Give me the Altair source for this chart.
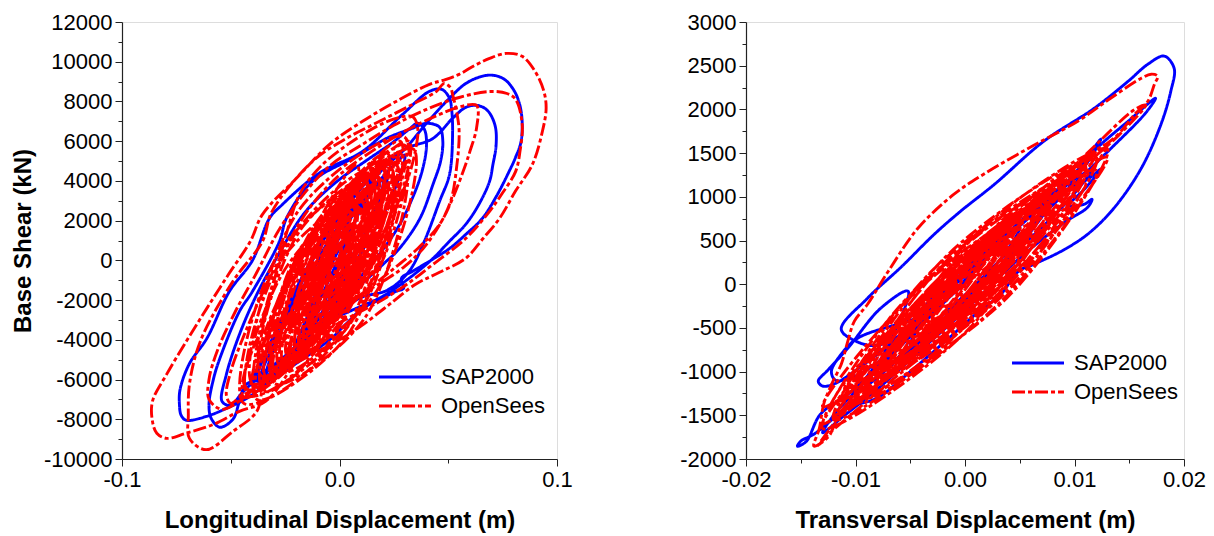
import altair as alt
import pandas as pd

FONT = "Liberation Sans"
SERIES = ["SAP2000", "OpenSees"]

# ---------------- Longitudinal panel (x in m, y in kN) ----------------
sap_long_core = [
    (0.000, 0), (0.008, 2200), (0.016, 3600), (0.022, 4300), (0.018, 2800), (0.006, 200),
    (-0.008, -2600), (-0.018, -4300), (-0.022, -4800), (-0.014, -2600), (-0.004, 300),
    (0.010, 2900), (0.026, 4900), (0.030, 5300), (0.024, 3200), (0.010, 400), (-0.010, -3000),
    (-0.028, -5600), (-0.034, -6000), (-0.028, -3900), (-0.016, -1200), (0.002, 1900),
    (0.016, 3800), (0.020, 4100), (0.014, 1900), (0.000, -800),
]
sap_long_loops = [
    (-0.016, -3600), (-0.030, -5800), (-0.042, -6900), (-0.052, -7450), (-0.061, -7850),
    (-0.0705, -8050), (-0.0728, -7800), (-0.0736, -7250), (-0.0733, -6500), (-0.069, -5200),
    (-0.061, -3930), (-0.0506, -1560), (-0.040, 0), (-0.0322, 2115), (-0.0262, 2820),
    (-0.0092, 4400), (0.0106, 5490), (0.029, 7350), (0.0414, 8510), (0.047, 8610),
    (0.0506, 8160), (0.0515, 7650), (0.052, 6500), (0.0506, 4330), (0.046, 2970), (0.039, 960),
    (0.032, -550), (0.022, -1500), (0.0092, -1900), (-0.003, -2900), (-0.015, -3600),
    (-0.024, -5100), (-0.0336, -5940), (-0.043, -6250),
    (-0.046, -7100), (-0.049, -8000), (-0.055, -8400), (-0.059, -7950), (-0.060, -7250),
    (-0.058, -6000), (-0.055, -4930), (-0.046, -2570), (-0.040, -1560), (-0.0276, 960),
    (-0.0244, 2115), (-0.0124, 3980), (0.0078, 5240), (0.0216, 6140), (0.0336, 6650),
    (0.040, 6900), (0.046, 6700), (0.0475, 6000), (0.0465, 5000), (0.043, 3830), (0.037, 2115),
    (0.0276, 604), (0.020, -200), (0.006, -1600), (-0.008, -3000), (-0.020, -4600),
    (-0.030, -5600), (-0.038, -6000), (-0.045, -6700),
    (-0.050, -7300), (-0.054, -7100), (-0.052, -5740), (-0.046, -3730), (-0.038, -1710),
    (-0.028, 300), (-0.016, 2400), (-0.002, 3900), (0.012, 5000), (0.024, 5900), (0.032, 6600),
    (0.036, 6900), (0.039, 6600), (0.040, 5800), (0.038, 4500), (0.033, 3000), (0.026, 1500),
    (0.016, 0), (0.004, -1500), (-0.010, -3000), (-0.020, -4300), (-0.030, -5300), (-0.036, -5800),
    (-0.030, -4200), (-0.018, -1800), (-0.006, 800), (0.010, 3200), (0.020, 4600), (0.030, 5600),
    (0.040, 6900), (0.050, 8100), (0.058, 8900), (0.065, 9250), (0.0705, 9320), (0.076, 9100),
    (0.081, 8400), (0.0837, 7350), (0.0835, 6000), (0.081, 5200), (0.078, 4480), (0.072, 3200),
    (0.0657, 2115), (0.058, 1300), (0.0506, 600), (0.042, 0), (0.0336, -550), (0.0285, -900),
    (0.0295, -1400), (0.026, -1560), (0.018, -2000), (0.0106, -2417), (0.003, -3200),
    (-0.004, -3950), (-0.016, -4900), (-0.026, -5600), (-0.034, -6000), (-0.040, -6300),
    (-0.036, -5200),
    (-0.026, -2800), (-0.012, 200), (0.004, 2800), (0.018, 4600), (0.030, 5600), (0.043, 6140),
    (0.052, 7150), (0.058, 7700), (0.0634, 7800), (0.068, 7550), (0.0715, 6800), (0.072, 5800),
    (0.0705, 4800), (0.069, 3980), (0.064, 2800), (0.058, 1810), (0.050, 900), (0.043, 100),
    (0.032, -900), (0.020, -1800), (0.006, -2500), (-0.006, -3100), (-0.016, -3900),
    (-0.026, -4900), (-0.036, -5700), (-0.040, -6000), (-0.032, -4300), (-0.020, -1700),
    (-0.006, 1300), (0.006, 3200), (0.014, 4200), (0.010, 2700), (0.000, 200), (-0.010, -2200),
    (-0.016, -3500), (-0.010, -1800), (0.000, 600), (0.006, 1600), (0.002, 200), (-0.004, -900),
    (0.000, 0),
]
os_long_core = [
    (0, 0), (0.0042, 1950), (0.012, 3000), (0.0043, -770), (-0.010, -2800), (-0.0002, 1750),
    (0.018, 4200), (0.0047, -1390), (-0.020, -4400), (-0.0046, 1710), (0.024, 5000),
    (0.010, -590), (-0.016, -3600), (-0.0069, 430), (0.010, 2600), (-0.004, -2730),
    (-0.030, -5600), (-0.0097, 1550), (0.028, 5400), (0.0098, -1230), (-0.024, -4800),
    (-0.010, 790), (0.016, 3800), (-0.0022, -2700), (-0.036, -6200), (-0.0164, 820),
    (0.020, 4600), (0.0088, -340), (-0.012, -3000), (0.0013, 2330), (0.026, 5200),
    (0.0071, -1560), (-0.028, -5200), (-0.0133, 390), (0.014, 3400), (-0.0049, -3100),
    (-0.040, -6600), (-0.0239, -1140), (0.006, 1800), (-0.0024, -1970), (-0.018, -4000),
    (-0.004, 1720), (0.022, 4800), (0.0024, -2090), (-0.034, -5800), (-0.0116, 1740),
    (0.030, 5800), (0.0167, 600), (-0.008, -2200), (0.0011, 1830), (0.018, 4000),
    (-0.0037, -3085), (-0.044, -6900), (-0.0244, -335), (0.012, 3200), (0.0001, -1870),
    (-0.022, -4600), (-0.0031, 2290), (0.032, 6000), (0.0159, -110), (-0.014, -3400),
    (-0.0063, 370), (0.008, 2400), (-0.0081, -3320), (-0.038, -6400), (-0.0163, 750),
    (0.024, 4600), (0.0065, -1640), (-0.026, -5000), (-0.0155, -840), (0.004, 1400),
    (0.0005, -680), (-0.006, -1800), (0.0017, 1710), (0.016, 3600), (-0.0008, -2250),
    (-0.032, -5400), (-0.0138, 970), (0.020, 4400), (0.013, 1540), (0, 0),
]
os_long_core2 = [
    (0, 0), (0.0078, 3920), (0.026, 5600), (0.0056, -3080), (-0.042, -6800), (-0.0264, 60),
    (0.010, 3000), (0.001, -2600), (-0.020, -5000), (-0.005, 2000), (0.030, 5000),
    (0.012, -2840), (-0.030, -6200), (-0.0204, -320), (0.002, 2200), (-0.0028, -2280),
    (-0.014, -4200), (-0.0032, 2520), (0.022, 5400), (0.004, -3280), (-0.038, -7000),
    (-0.0218, 1120), (0.016, 4600), (0.0094, -720), (-0.006, -3000), (0.0042, 3300),
    (0.028, 6000), (0.0118, -2120), (-0.026, -5600), (-0.0164, 280), (0.006, 2800),
    (-0.006, -3780), (-0.034, -6600), (-0.0184, 540), (0.018, 3600), (0.0096, -1440),
    (-0.010, -3600), (0.0002, 1860), (0.024, 4200), (0.0036, -3780), (-0.044, -7200),
    (-0.0272, 500), (0.012, 3800), (0.003, -1940), (-0.018, -4400), (-0.0024, 2600),
    (0.034, 5600), (0.0154, -1820), (-0.028, -5000), (-0.0196, -240), (0.000, 1800),
    (-0.0066, -3520), (-0.022, -5800), (-0.0094, 1760), (0.020, 5000), (0.0104, -320),
    (-0.012, -2600), (-0.0042, 1040), (0.014, 2600), (-0.001, -3280), (-0.036, -5800),
    (-0.0174, 1620), (0.026, 4800), (0.017, -240), (-0.004, -2400), (-0.0004, 1660),
    (0.008, 3400), (-0.0064, -3320), (-0.040, -6200), (-0.019, 2480), (0.030, 6200),
    (0.0162, -800), (-0.016, -3800), (-0.0112, -1140), (0, 0),
]
os_long_core3 = [
    (0, 0), (0.0032, 1560), (0.008, 2600), (-0.0016, -760), (-0.016, -3000), (-0.008, -480),
    (0.004, 1200), (-0.0072, -2040), (-0.024, -4200), (-0.0088, -360), (0.014, 2200),
    (0.0052, -80), (-0.008, -1600), (0.0032, 1400), (0.020, 3400), (0.0072, -920),
    (-0.012, -3800), (-0.0064, 280), (0.002, 3000), (-0.0108, -1560), (-0.030, -4600),
    (-0.014, -1240), (0.010, 1000), (-0.002, -1040), (-0.020, -2400), (-0.0056, 1680),
    (0.016, 4400), (0.008, 1160), (-0.004, -1000), (0.000, 1880), (0.006, 3800),
    (-0.0068, -520), (-0.026, -3400), (-0.0084, -160), (0.018, 2000), (0.0052, -2320),
    (-0.014, -5200), (-0.0092, -640), (-0.002, 2400), (-0.0156, -2040), (-0.036, -5000),
    (-0.0168, 520), (0.012, 4200), (0.0032, -960), (-0.010, -4400), (0.0028, 520),
    (0.022, 3800), (0.006, 320), (-0.018, -2000), (-0.0108, -440), (0.000, 600),
    (-0.0128, -3360), (-0.032, -6000), (-0.016, 480), (0.008, 4800), (0.0048, 360),
    (0.000, -2600), (0.0096, 760), (0.024, 3000), (0.0056, -720), (-0.022, -3200),
    (-0.0132, -1280), (0, 0),
]
os_long_loops = [
    (-0.010, -3200), (-0.022, -5400), (-0.034, -7100), (-0.046, -7600), (-0.058, -8260),
    (-0.0705, -8700), (-0.0795, -8960), (-0.084, -8700), (-0.086, -8100), (-0.086, -7100),
    (-0.0795, -5740), (-0.070, -4000), (-0.061, -2417), (-0.051, -700), (-0.041, 957),
    (-0.0354, 2316), (-0.0198, 4130), (-0.0046, 5840), (0.0106, 7000), (0.026, 8000),
    (0.0414, 8860), (0.049, 9110), (0.055, 9365), (0.062, 9800), (0.069, 10170), (0.0768, 10420),
    (0.084, 10270), (0.090, 9500), (0.094, 8500), (0.095, 7650), (0.0933, 6500), (0.0887, 4830),
    (0.081, 3500), (0.0736, 2115), (0.066, 1100), (0.058, 100), (0.046, -600), (0.035, -1200),
    (0.022, -2300), (0.010, -3300), (0.000, -4000), (-0.012, -4700), (-0.024, -5400),
    (-0.034, -6000),
    (-0.038, -7600), (-0.049, -8610), (-0.0613, -9530), (-0.069, -8960), (-0.0695, -7800),
    (-0.069, -6240), (-0.064, -4080), (-0.049, -1057), (-0.0354, 957), (-0.031, 2467),
    (-0.0124, 4985), (0.0032, 6140), (0.0184, 7000), (0.0336, 7855), (0.0446, 8510),
    (0.048, 8900), (0.051, 8700), (0.052, 8360), (0.054, 7400), (0.055, 6500), (0.054, 4830),
    (0.0506, 2820), (0.040, 805), (0.030, -300), (0.018, -1200), (0.004, -2100), (-0.010, -3200),
    (-0.020, -4300), (-0.030, -5500), (-0.038, -6300),
    (-0.045, -7000), (-0.054, -7500), (-0.060, -7000), (-0.060, -6000), (-0.056, -4500),
    (-0.048, -2600), (-0.038, -600), (-0.028, 1500), (-0.016, 3400), (-0.004, 4800),
    (0.010, 5800), (0.025, 6800), (0.040, 7600), (0.055, 8200), (0.069, 8500), (0.077, 8400),
    (0.081, 8100), (0.084, 6850), (0.083, 5500), (0.081, 4480), (0.075, 3400), (0.069, 2470),
    (0.058, 1100), (0.043, -200), (0.031, -1200), (0.018, -2100), (0.004, -2900),
    (-0.010, -3800), (-0.022, -4900), (-0.032, -5800), (-0.040, -6500), (-0.046, -6900),
    (-0.050, -7200), (-0.052, -6800), (-0.050, -5600), (-0.044, -3800), (-0.036, -1800),
    (-0.026, 400), (-0.014, 2600), (0.000, 4300), (0.015, 5500), (0.030, 6500), (0.045, 7300),
    (0.056, 7750), (0.063, 7800), (0.063, 6650), (0.060, 5500), (0.058, 4830), (0.052, 3120),
    (0.046, 1810), (0.036, 600), (0.024, -500), (0.010, -1700), (-0.004, -2800),
    (-0.016, -3900), (-0.026, -5000), (-0.034, -6000),
    (-0.040, -6600), (-0.044, -6200), (-0.040, -4500), (-0.036, -3500), (-0.030, -1000),
    (-0.024, 1500), (-0.018, 3400), (-0.008, 4800), (0.006, 6000), (0.020, 6900), (0.030, 7250),
    (0.034, 7200), (0.036, 6600), (0.035, 5600), (0.032, 4300), (0.026, 2700), (0.018, 1000),
    (0.006, -800), (-0.006, -2300), (-0.016, -3600), (-0.024, -4600), (-0.016, -2800),
    (-0.006, -600), (0, 0),
]

# ---------------- Transversal panel (x in m, y in kN) ----------------
sap_trans_core = [
    (0, 0), (0.002, 350), (0.005, 650), (0.003, 250), (-0.002, -350), (-0.005, -700),
    (-0.003, -250), (0.002, 400), (0.007, 900), (0.009, 1150), (0.006, 600), (0.001, -100),
    (-0.004, -600), (-0.008, -1050), (-0.010, -1250), (-0.006, -600), (-0.001, 100),
    (0.004, 600), (0.008, 1050), (0.006, 650), (0.001, 0), (-0.004, -650), (-0.007, -900),
    (-0.004, -350), (0.001, 250), (0.006, 800), (0.010, 1200), (0.0115, 1300), (0.009, 900),
    (0.004, 300), (-0.002, -400), (-0.006, -850), (-0.009, -1150), (-0.007, -700),
]
sap_trans_loops = [
    (-0.0052, -80), (-0.0077, -275), (-0.0107, -732), (-0.0125, -980), (-0.0134, -1110),
    (-0.013, -1165), (-0.012, -1144), (-0.0092, -915), (-0.006, -600), (-0.003, -250),
    (0.000, 100), (0.003, 450), (0.0055, 750), (0.002, 300), (-0.003, -300), (-0.0098, -618),
    (-0.0113, -800), (-0.0122, -1000), (-0.0118, -1100), (-0.010, -1050), (-0.007, -800),
    (-0.004, -450), (-0.008, -700), (-0.010, -650), (-0.0113, -515), (-0.0089, -160),
    (-0.0058, 200), (-0.0028, 572), (-0.0004, 835), (0.0027, 1144), (0.0072, 1636),
    (0.0118, 2013), (0.0149, 2322), (0.0167, 2517), (0.0182, 2610), (0.0191, 2470),
    (0.0188, 2210), (0.0179, 1830), (0.0161, 1327), (0.0136, 870), (0.0112, 572),
    (0.0088, 378), (0.0063, 229), (0.0049, 149), (0.0032, -126), (0.0015, -286),
    (-0.0015, -620), (-0.005, -1000), (-0.008, -1300), (-0.0107, -1419), (-0.0138, -1716),
    (-0.015, -1796), (-0.0153, -1853), (-0.0145, -1800), (-0.0132, -1487), (-0.0107, -1260),
    (-0.008, -950), (-0.004, -450), (0.000, 50), (0.004, 550), (0.0088, 1100), (0.012, 1550),
    (0.0149, 1865), (0.0174, 2128), (0.0165, 1960), (0.0133, 1550), (0.010, 1150),
    (0.0075, 850), (0.010, 1250), (0.0124, 1659), (0.0115, 1450), (0.0095, 1100),
    (0.0112, 1200), (0.0124, 1316), (0.011, 1100), (0.0095, 900), (0.0109, 915),
    (0.0116, 972), (0.0112, 880), (0.009, 700), (0.005, 300), (0.000, -300), (-0.004, -750),
    (-0.008, -1200), (-0.011, -1500), (-0.013, -1700), (-0.012, -1500), (-0.009, -1100),
    (-0.005, -600), (-0.001, -100), (0.000, 0),
]
os_trans_core = [
    (0, 0), (0.0016, 300), (0.004, 500), (0.0012, -40), (-0.003, -400), (0.001, 350),
    (0.007, 850), (0.0018, -110), (-0.006, -750), (0.000, 360), (0.009, 1100), (0.0022, -160),
    (-0.008, -1000), (-0.0028, -10), (0.005, 650), (-0.001, -490), (-0.010, -1250),
    (-0.0016, 280), (0.011, 1300), (0.0046, 130), (-0.005, -650), (0.0002, 340), (0.008, 1000),
    (0.0004, -440), (-0.011, -1400), (-0.0018, 310), (0.012, 1450), (0.0036, -110),
    (-0.009, -1150), (-0.003, -10), (0.006, 750), (-0.0012, -630), (-0.012, -1550),
    (-0.0032, 130), (0.010, 1250), (0.0044, 170), (-0.004, -550), (-0.0012, 20), (0.003, 400),
    (-0.001, -380), (-0.007, -900), (0.001, 570), (0.013, 1550), (0.0038, -160),
    (-0.010, -1300), (-0.0024, 170), (0.009, 1150), (0.0002, -530), (-0.013, -1650),
    (-0.005, -120), (0.007, 900), (0.0034, 210), (-0.002, -250), (0.0032, 710), (0.011, 1350),
    (0.0034, -90), (-0.008, -1050), (-0.0048, -420), (0, 0),
]
os_trans_core2 = [
    (0, 0), (0.0045, 715), (0.010, 1300), (0.0001, -240), (-0.012, -1500), (-0.0039, -180),
    (0.006, 900), (-0.0003, -200), (-0.008, -1100), (0.001, 330), (0.012, 1500),
    (0.0048, 345), (-0.004, -600), (0.00185, 390), (0.009, 1200), (-0.0009, -340),
    (-0.013, -1600), (-0.0054, -390), (0.004, 600), (-0.0023, -470), (-0.010, -1350),
    (-0.00055, 160), (0.011, 1400), (0.00335, 160), (-0.006, -850), (0.0003, 195),
    (0.008, 1050), (-0.00055, -325), (-0.011, -1450), (-0.0002, 228), (0.013, 1600),
    (0.004, 198), (-0.007, -950), (-0.0016, -15), (0.005, 750), (-0.00265, -515),
    (-0.012, -1550), (-0.0021, 45), (0.010, 1350), (0.00145, -52), (-0.009, -1200),
    (-0.0018, -18), (0.007, 950), (0.0016, 43), (-0.005, -700), (0.00265, 510), (0.012, 1500),
    (0.0021, -40), (-0.010, -1300), (-0.0055, -585), (0, 0),
]
os_trans_core3 = [
    (0, 0), (0.0025, 350), (0.006, 600), (0.0001, -212), (-0.008, -800), (-0.0004, 302),
    (0.010, 1100), (0.0045, 201), (-0.003, -450), (-0.0001, 217), (0.004, 700),
    (-0.0023, -402), (-0.011, -1200), (-0.003, -40), (0.008, 800), (0.0021, -12),
    (-0.006, -600), (0.0016, 502), (0.012, 1300), (0.0032, -208), (-0.009, -1300),
    (-0.0044, -314), (0.002, 400), (-0.0043, -644), (-0.013, -1400), (-0.0038, -8),
    (0.009, 1000), (0.0035, 43), (-0.004, -650), (0.0023, 394), (0.011, 1150),
    (0.0022, -155), (-0.010, -1100), (-0.0037, -172), (0.005, 500), (0.000, -370),
    (-0.007, -1000), (0.0014, 421), (0.013, 1450), (0.0025, -174), (-0.012, -1350),
    (-0.007, -567), (0, 0),
]
os_trans_loops = [
    (-0.004, -600), (-0.008, -1050), (-0.0113, -1450), (-0.0125, -1750), (-0.0138, -1853),
    (-0.0133, -1650), (-0.0129, -1370), (-0.0122, -1150), (-0.0113, -915), (-0.0107, -652),
    (-0.0101, -423), (-0.0089, -229), (-0.007, 149), (-0.0043, 640), (-0.001, 1030),
    (0.0017, 1258), (0.0058, 1556), (0.0103, 1865), (0.0133, 2128), (0.0161, 2357),
    (0.017, 2403), (0.0176, 2380), (0.0173, 2288), (0.0167, 2094), (0.0155, 1945),
    (0.014, 1716), (0.0118, 1487), (0.0094, 1144), (0.0065, 750), (0.003, 250),
    (-0.0001, -343), (-0.0031, -732), (-0.0068, -1110), (-0.010, -1450), (-0.0125, -1720),
    (-0.0135, -1860), (-0.012, -1600), (-0.010, -1300), (-0.007, -850), (-0.004, -400),
    (0.000, 0), (0.004, 550), (0.008, 1100), (0.012, 1600), (0.0155, 2000), (0.0165, 2050),
    (0.014, 1700), (0.010, 1250), (0.006, 700), (0.002, 200), (0.000, 0),
]

long_x_ticks = [-0.1, -0.05, 0.0, 0.05, 0.1]
long_y_ticks = list(range(-10000, 12001, 1000))
trans_x_ticks = [-0.02, -0.015, -0.01, -0.005, 0.0, 0.005, 0.01, 0.015, 0.02]
trans_y_ticks = list(range(-2000, 3001, 250))


def frame(groups):
    rows = []
    for series, parts in groups:
        i = 0
        for part in parts:
            for x, y in part:
                rows.append({"series": series, "x": x, "y": y, "i": i})
                i += 1
    return pd.DataFrame(rows)


long_df = frame([("SAP2000", [sap_long_core, sap_long_loops]),
                 ("OpenSees", [os_long_core, os_long_core2, os_long_core3, os_long_loops])])
trans_df = frame([("SAP2000", [sap_trans_core, sap_trans_loops]),
                  ("OpenSees", [os_trans_core, os_trans_core2, os_trans_core3, os_trans_loops])])


def axis(values, title, major_test, fmt, title_pad):
    return alt.Axis(
        values=values, title=title, grid=False,
        labelExpr=f"({major_test}) ? ((datum.value < 0 ? '-' : '') + format(abs(datum.value), '{fmt}')) : ''",
        tickSize={"condition": {"test": major_test, "value": 7}, "value": 4},
        tickColor="#222", tickWidth=1, domainColor="#222", domainWidth=1.2,
        labelFont=FONT, labelFontSize=22, labelColor="black", labelPadding=3,
        titleFont=FONT, titleFontSize=24, titleFontWeight="bold", titleColor="black",
        titlePadding=title_pad, labelFlush=False, labelOverlap=False,
    )


def panel(df, xdom, ydom, xaxis, yaxis, lx, ly, w, h):
    leg = alt.Legend(title=None, orient="none", legendX=lx, legendY=ly,
                     symbolType="M-3,0H3", symbolSize=300, symbolStrokeWidth=3,
                     labelFont=FONT, labelFontSize=22, labelColor="black",
                     labelOffset=25, rowPadding=7, padding=0)
    return alt.Chart(df).mark_line(strokeWidth=2.9, strokeJoin="round",
                                   interpolate="catmull-rom").encode(
        x=alt.X("x:Q", scale=alt.Scale(domain=xdom, nice=False, zero=False), axis=xaxis),
        y=alt.Y("y:Q", scale=alt.Scale(domain=ydom, nice=False, zero=False), axis=yaxis),
        color=alt.Color("series:N", scale=alt.Scale(domain=SERIES, range=["#0000ff", "#ff0000"]), legend=leg),
        strokeDash=alt.StrokeDash("series:N", scale=alt.Scale(domain=SERIES, range=[[1, 0], [13, 3, 4, 3]]), legend=leg),
        order="i:Q",
    ).properties(width=w, height=h)


left = panel(
    long_df, [-0.1, 0.1], [-10000, 12000],
    axis(long_x_ticks, "Longitudinal Displacement (m)",
         "abs(datum.value*10 - round(datum.value*10)) < 0.001", ".1f", 18),
    axis(long_y_ticks, "Base Shear (kN)", "datum.value % 2000 === 0", "d", 8),
    272, 344, 435, 437,
)
right = panel(
    trans_df, [-0.02, 0.02], [-2000, 3000],
    axis(trans_x_ticks, "Transversal Displacement (m)",
         "abs(datum.value*100 - round(datum.value*100)) < 0.001", ".2f", 18),
    axis(trans_y_ticks, None, "datum.value % 500 === 0", "d", 8),
    281, 330, 438, 437,
)

chart = alt.hconcat(left, right, spacing=106).resolve_legend(
    color="independent", strokeDash="independent"
).properties(
    padding={"left": 10, "top": 10, "right": 5, "bottom": 5}
).configure_view(stroke=None).configure(background="white")

chart.save("out.html", embed_options={"renderer": "svg", "actions": False})
